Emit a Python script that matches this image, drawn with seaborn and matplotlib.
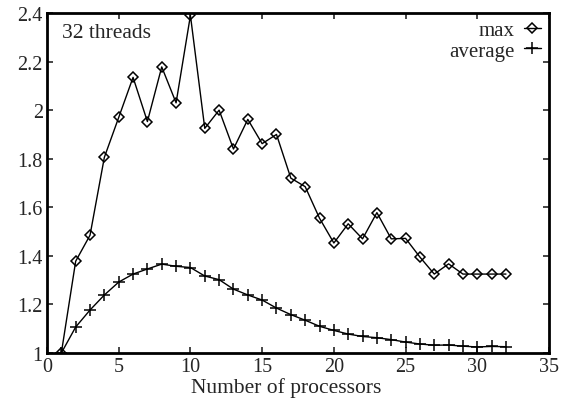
import matplotlib
matplotlib.use("Agg")
import matplotlib.pyplot as plt
import seaborn as sns
import pandas as pd

processors = list(range(1, 33))
max_vals = [1.0, 1.378, 1.485, 1.806, 1.97, 2.135, 1.953, 2.178, 2.03, 2.39,
            1.925, 2.0, 1.84, 1.962, 1.862, 1.9, 1.72, 1.685, 1.555, 1.453,
            1.532, 1.47, 1.578, 1.47, 1.472, 1.395, 1.325, 1.367, 1.325, 1.325,
            1.325, 1.325]
avg_vals = [1.0, 1.107, 1.177, 1.239, 1.292, 1.325, 1.346, 1.366, 1.357, 1.352,
            1.317, 1.302, 1.263, 1.239, 1.218, 1.185, 1.158, 1.135, 1.11, 1.093,
            1.078, 1.068, 1.063, 1.055, 1.045, 1.037, 1.032, 1.033, 1.028, 1.025,
            1.027, 1.026]
xticks = [0, 5, 10, 15, 20, 25, 30, 35]
yticks = [1.0, 1.2, 1.4, 1.6, 1.8, 2.0, 2.2, 2.4]
ytick_labels = ["1", "1.2", "1.4", "1.6", "1.8", "2", "2.2", "2.4"]

sns.set_style("ticks")
plt.rcParams["font.family"] = ["Liberation Serif", "DejaVu Serif"]
plt.rcParams["font.size"] = 15

fig = plt.figure(figsize=(5.71, 4.02), dpi=100)
ax = fig.add_axes([47/571, 48/402, 502/571, 340/402])

df_max = pd.DataFrame({"p": processors, "v": max_vals})
df_avg = pd.DataFrame({"p": processors, "v": avg_vals})

sns.lineplot(data=df_max, x="p", y="v", ax=ax, color="black", lw=1.0,
             marker="D", markersize=5, markerfacecolor="none",
             markeredgecolor="black", markeredgewidth=1.1, label="max")
sns.lineplot(data=df_avg, x="p", y="v", ax=ax, color="black", lw=1.0,
             marker="+", markersize=9, markeredgewidth=1.1,
             markeredgecolor="black", label="average")

ax.set_xlim(0, 35)
ax.set_ylim(1, 2.4)
ax.set_xticks(xticks)
ax.set_yticks(yticks)
ax.set_yticklabels(ytick_labels)
ax.set_xlabel("Number of processors", fontsize=15.5, va="center")
ax.xaxis.set_label_coords((286.5 - 47) / 502, (354 - 388) / 340)
ax.set_ylabel("")
ax.tick_params(direction="in", top=True, right=True, length=4, width=1.2,
               labelsize=14.5, pad=3)
for s in ax.spines.values():
    s.set_linewidth(2)
    s.set_color("black")

ax.text(0.03, (354 - 34) / 340, "32 threads", transform=ax.transAxes,
        fontsize=15.5, ha="left", va="center")

leg = ax.legend(loc="upper right", frameon=False, markerfirst=False,
                fontsize=15, handlelength=0.8, borderaxespad=0.0,
                labelspacing=0.05, handletextpad=0.45,
                bbox_to_anchor=(1.0, 1.0 + 1 / 340))
for t in leg.get_texts():
    t.set_ha("right")

fig.savefig("out.png", dpi=100)
